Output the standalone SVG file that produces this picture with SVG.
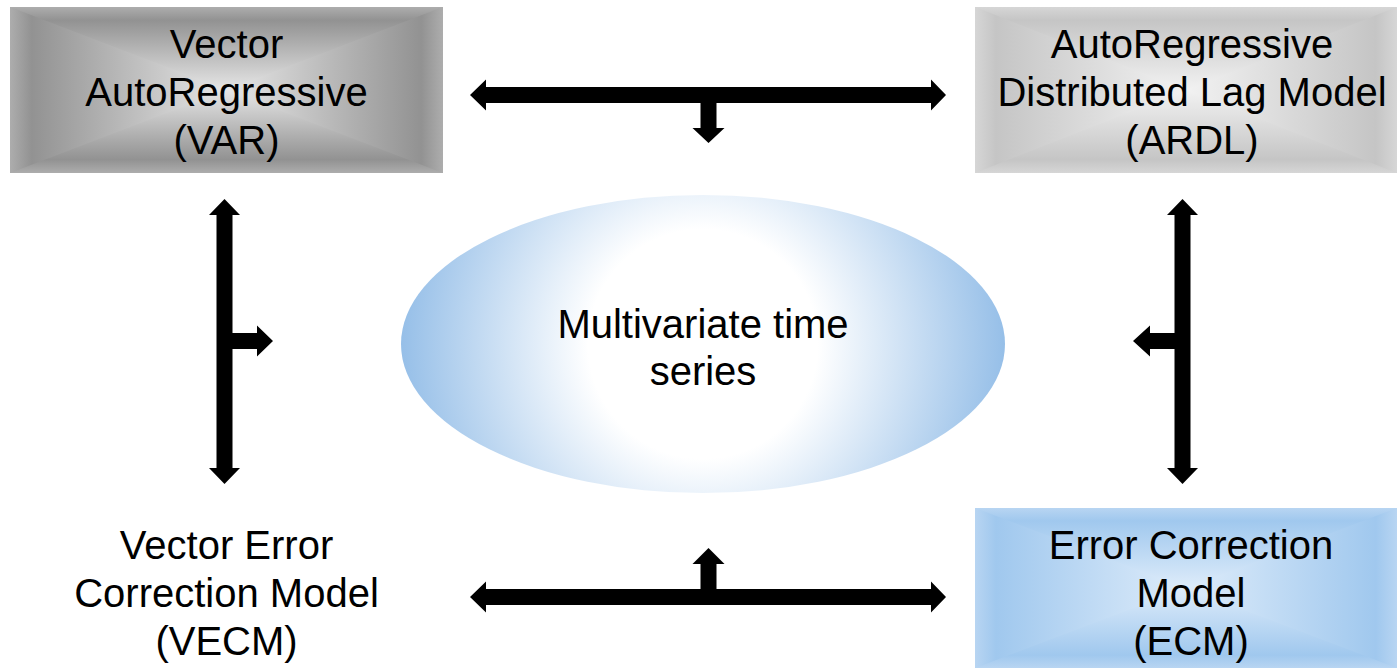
<svg xmlns="http://www.w3.org/2000/svg" width="1399" height="672" viewBox="0 0 1399 672">
<style>
.t{font-family:"Liberation Sans",Arial,sans-serif;font-size:40px;fill:#000;text-anchor:middle}
.arr{fill:#000}
</style>
<defs>
<linearGradient id="gV" x1="0" y1="0" x2="0" y2="1">
<stop offset="0" stop-color="#adadad"/><stop offset="0.08" stop-color="#929292"/><stop offset="0.5" stop-color="#e6e6e6"/><stop offset="0.92" stop-color="#929292"/><stop offset="1" stop-color="#adadad"/>
</linearGradient>
<linearGradient id="gL" x1="0" y1="0" x2="1" y2="0">
<stop offset="0" stop-color="#adadad"/><stop offset="0.1" stop-color="#929292"/><stop offset="1" stop-color="#e6e6e6"/>
</linearGradient>
<linearGradient id="gR" x1="1" y1="0" x2="0" y2="0">
<stop offset="0" stop-color="#adadad"/><stop offset="0.1" stop-color="#929292"/><stop offset="1" stop-color="#e6e6e6"/>
</linearGradient>
<linearGradient id="aV" x1="0" y1="0" x2="0" y2="1">
<stop offset="0" stop-color="#d6d6d6"/><stop offset="0.08" stop-color="#c5c5c5"/><stop offset="0.5" stop-color="#f2f2f2"/><stop offset="0.92" stop-color="#c5c5c5"/><stop offset="1" stop-color="#d6d6d6"/>
</linearGradient>
<linearGradient id="aL" x1="0" y1="0" x2="1" y2="0">
<stop offset="0" stop-color="#d6d6d6"/><stop offset="0.1" stop-color="#c5c5c5"/><stop offset="1" stop-color="#f2f2f2"/>
</linearGradient>
<linearGradient id="aR" x1="1" y1="0" x2="0" y2="0">
<stop offset="0" stop-color="#d6d6d6"/><stop offset="0.1" stop-color="#c5c5c5"/><stop offset="1" stop-color="#f2f2f2"/>
</linearGradient>
<linearGradient id="bV" x1="0" y1="0" x2="0" y2="1">
<stop offset="0" stop-color="#b8d5f2"/><stop offset="0.08" stop-color="#a0c8ee"/><stop offset="0.5" stop-color="#deecfa"/><stop offset="0.92" stop-color="#a0c8ee"/><stop offset="1" stop-color="#b8d5f2"/>
</linearGradient>
<linearGradient id="bL" x1="0" y1="0" x2="1" y2="0">
<stop offset="0" stop-color="#b8d5f2"/><stop offset="0.1" stop-color="#a0c8ee"/><stop offset="1" stop-color="#deecfa"/>
</linearGradient>
<linearGradient id="bR" x1="1" y1="0" x2="0" y2="0">
<stop offset="0" stop-color="#b8d5f2"/><stop offset="0.1" stop-color="#a0c8ee"/><stop offset="1" stop-color="#deecfa"/>
</linearGradient>
<radialGradient id="eg" gradientUnits="userSpaceOnUse" cx="703" cy="344" r="302">
<stop offset="0" stop-color="#ffffff"/><stop offset="0.38" stop-color="#ffffff"/><stop offset="1" stop-color="#96bfe8"/>
</radialGradient>
</defs>

<g id="var">
<rect x="10" y="7" width="433" height="166" fill="url(#gV)"/>
<polygon points="10,7 226.5,90 10,173" fill="url(#gL)"/>
<polygon points="443,7 226.5,90 443,173" fill="url(#gR)"/>
<text class="t" x="226.5" y="58">Vector</text>
<text class="t" x="226.5" y="106">AutoRegressive</text>
<text class="t" x="226.5" y="154">(VAR)</text>
</g>

<g id="ardl">
<rect x="975" y="7" width="422" height="166" fill="url(#aV)"/>
<polygon points="975,7 1186,90 975,173" fill="url(#aL)"/>
<polygon points="1397,7 1186,90 1397,173" fill="url(#aR)"/>
<text class="t" x="1192" y="58">AutoRegressive</text>
<text class="t" x="1192" y="106">Distributed Lag Model</text>
<text class="t" x="1192" y="154">(ARDL)</text>
</g>

<g id="ecm">
<rect x="975" y="508" width="422" height="160" fill="url(#bV)"/>
<polygon points="975,508 1186,588 975,668" fill="url(#bL)"/>
<polygon points="1397,508 1186,588 1397,668" fill="url(#bR)"/>
<text class="t" x="1191" y="559">Error Correction</text>
<text class="t" x="1191" y="607">Model</text>
<text class="t" x="1191" y="655">(ECM)</text>
</g>

<g id="vecm">
<text class="t" x="226.5" y="559">Vector Error</text>
<text class="t" x="226.5" y="607">Correction Model</text>
<text class="t" x="226.5" y="655">(VECM)</text>
</g>

<g id="mts">
<ellipse cx="703" cy="344" rx="302" ry="149" fill="url(#eg)"/>
<text class="t" x="703" y="338">Multivariate time</text>
<text class="t" x="703" y="385">series</text>
</g>

<g id="connectors">
<polygon class="arr" points="470,95 486,79.5 486,87 931,87 931,79.5 946,95 931,110.5 931,103 716.5,103 716.5,128 724.5,128 708.5,143 692.5,128 700.5,128 700.5,103 486,103 486,110.5"/>
<polygon class="arr" points="470,597 486,581.5 486,589 700.5,589 700.5,564 692.5,564 708.5,548 724.5,564 716.5,564 716.5,589 931,589 931,581.5 946,597 931,612.5 931,605 486,605 486,612.5"/>
<polygon class="arr" points="224.5,199 240,215 232.5,215 232.5,333 257,333 257,325.5 273,341 257,356.5 257,349 232.5,349 232.5,468 240,468 224.5,484 209,468 216.5,468 216.5,215 209,215"/>
<polygon class="arr" points="1182.5,199 1198,215 1190.5,215 1190.5,468 1198,468 1182.5,484 1167,468 1174.5,468 1174.5,349 1150,349 1150,356.5 1133,341 1150,325.5 1150,333 1174.5,333 1174.5,215 1167,215"/>
</g>
</svg>
